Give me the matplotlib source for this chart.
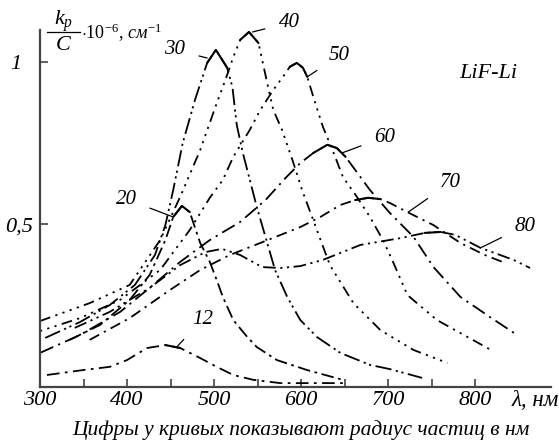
import numpy as np
import matplotlib.pyplot as plt

plt.rcParams['font.family'] = ['Liberation Serif', 'DejaVu Serif']
plt.rcParams['mathtext.fontset'] = 'custom'
plt.rcParams['mathtext.rm'] = 'Liberation Serif'
plt.rcParams['mathtext.it'] = 'Liberation Serif:italic'

# wavelength (nm) / k_p/C (x1e6 cm^-1), one pair per particle radius
x12 = [308, 349, 380, 400, 423, 444, 461, 484, 503, 522, 545, 576, 650]
y12 = [0.037, 0.052, 0.062, 0.083, 0.12, 0.129, 0.12, 0.089, 0.062, 0.037, 0.022, 0.012, 0.012]

x20 = [334, 369, 403, 426, 444, 453, 463, 472, 484, 495, 503, 510, 522, 538, 549, 572, 607, 648]
y20 = [0.145, 0.191, 0.268, 0.345, 0.452, 0.523, 0.557, 0.538, 0.443, 0.385, 0.329, 0.277,
       0.206, 0.154, 0.123, 0.083, 0.052, 0.022]

x30 = [306, 346, 380, 409, 432, 444, 453, 464, 478, 492, 502, 515, 521, 526, 533, 541, 549,
       561, 570, 584, 599, 618, 645, 679, 702, 739]
y30 = [0.151, 0.2, 0.252, 0.314, 0.406, 0.498, 0.606, 0.751, 0.883, 0.997, 1.037, 0.982,
       0.923, 0.806, 0.72, 0.637, 0.554, 0.443, 0.36, 0.277, 0.206, 0.154, 0.105, 0.068,
       0.055, 0.028]

x40 = [300, 357, 403, 438, 461, 484, 501, 513, 522, 530, 540, 551, 561, 568, 578, 590, 601,
       616, 633, 660, 691, 729, 768]
y40 = [0.203, 0.258, 0.314, 0.452, 0.585, 0.729, 0.858, 0.945, 1.015, 1.068, 1.092, 1.058,
       0.935, 0.852, 0.791, 0.698, 0.606, 0.498, 0.375, 0.258, 0.175, 0.114, 0.074]

x50 = [300, 346, 392, 438, 472, 495, 510, 522, 541, 553, 568, 579, 587, 595, 602, 607, 614,
       625, 636, 648, 664, 679, 694, 706, 722, 756, 791, 818]
y50 = [0.172, 0.212, 0.268, 0.36, 0.483, 0.582, 0.637, 0.708, 0.791, 0.852, 0.914, 0.954,
       0.985, 0.997, 0.982, 0.954, 0.892, 0.8, 0.729, 0.646, 0.585, 0.523, 0.452, 0.382,
       0.283, 0.206, 0.154, 0.114]

x60 = [300, 346, 392, 426, 461, 495, 530, 559, 582, 599, 614, 630, 641, 651, 662, 679, 702,
       729, 752, 783, 817, 848]
y60 = [0.105, 0.16, 0.231, 0.305, 0.385, 0.452, 0.508, 0.575, 0.643, 0.689, 0.72, 0.745,
       0.735, 0.708, 0.668, 0.606, 0.535, 0.462, 0.369, 0.277, 0.215, 0.16]

x70 = [357, 403, 449, 484, 518, 553, 599, 622, 645, 662, 677, 691, 702, 722, 752, 783, 811, 834]
y70 = [0.145, 0.212, 0.298, 0.36, 0.406, 0.443, 0.492, 0.523, 0.56, 0.575, 0.582, 0.578,
       0.566, 0.538, 0.498, 0.443, 0.406, 0.382]

x80 = [340, 380, 426, 461, 490, 509, 530, 555, 576, 599, 625, 668, 714, 742, 760, 777, 806,
       844, 863]
y80 = [0.182, 0.231, 0.305, 0.375, 0.415, 0.425, 0.406, 0.369, 0.366, 0.372, 0.391, 0.437,
       0.458, 0.474, 0.477, 0.468, 0.428, 0.391, 0.366]

radii = ['12', '20', '30', '40', '50', '60', '70', '80']
xs = [x12, x20, x30, x40, x50, x60, x70, x80]
ys = [y12, y20, y30, y40, y50, y60, y70, y80]

# line styles and the solid stretch near each maximum
dashes = [(0, (7, 3, 1.5, 3)),
          (0, (7, 2.5, 1.5, 2.5)),
          (0, (9, 2.5, 1.2, 2, 1.2, 2.5)),
          (0, (6, 3, 1.2, 3, 1.2, 3, 1.2, 3, 1.2, 3)),
          (0, (1.2, 3, 1.2, 3, 1.2, 3, 6, 3)),
          (0, (8, 3, 1.2, 3)),
          (0, (6, 3, 1.2, 3)),
          (0, (7, 2.5, 1.2, 2.5, 1.2, 2.5))]
solid = [(425, 462), (453, 480), (490, 518), (528, 553), (584, 610), (612, 652), (655, 697),
         (738, 772)]

# label text position (nm, value) and the point the leader line goes to
lab_pos = [(487, 0.209), (399, 0.578), (455, 1.037), (586, 1.12), (644, 1.02), (696, 0.769),
           (771, 0.628), (857, 0.495)]
lab_tip = [(457, 0.123), (453, 0.523), (492, 1.012), (544, 1.092), (607, 0.954), (647, 0.72),
           (723, 0.538), (806, 0.428)]

fig = plt.figure(figsize=(5.59, 4.42), dpi=100)
ax = fig.add_axes([0.0716, 0.1244, 0.9141, 0.8076])

for x, y, ls, (s0, s1) in zip(xs, ys, dashes, solid):
    x = np.array(x)
    y = np.array(y)
    ax.plot(x, y, color='black', lw=1.3, linestyle=ls, dash_capstyle='butt')
    m = (x >= s0) & (x <= s1)
    ax.plot(x[m], y[m], color='black', lw=1.5, solid_capstyle='round')

for r, (tx, ty), (px, py) in zip(radii, lab_pos, lab_tip):
    ax.annotate(r, xy=(px, py), xytext=(tx, ty), fontsize=15, style='italic',
                ha='center', va='center',
                arrowprops=dict(arrowstyle='-', color='black', lw=0.9, shrinkA=8, shrinkB=0))

ax.text(815, 0.965, 'LiF-Li', fontsize=16, style='italic', ha='center', va='center')

ax.set_xlim(300, 887)
ax.set_ylim(0, 1.098)
ax.spines['top'].set_visible(False)
ax.spines['right'].set_visible(False)
for s in ['left', 'bottom']:
    ax.spines[s].set_color('#444444')
    ax.spines[s].set_linewidth(1.6)

ax.set_xticks([300, 350, 400, 450, 500, 550, 600, 650, 700, 750, 800])
ax.set_xticklabels(['300', '', '400', '', '500', '', '600', '', '700', '', '800'])
ax.set_yticks([0.5, 1.0])
ax.set_yticklabels(['0,5', '1  '])
ax.tick_params(direction='in', length=6, width=1.2, color='#444444', labelsize=16)
ax.tick_params(axis='x', pad=3)
ax.tick_params(axis='y', pad=5)
for t in ax.get_xticklabels() + ax.get_yticklabels():
    t.set_style('italic')

fig.text(0.957, 0.094, 'λ, нм', fontsize=16.5, style='italic', ha='center', va='center')
fig.text(0.113, 0.952, '$k_p$', fontsize=16, ha='center', va='center')
fig.text(0.113, 0.898, '$C$', fontsize=16, ha='center', va='center')
fig.add_artist(plt.Line2D([0.084, 0.143], [0.927, 0.927], color='black', lw=0.9))
fig.text(0.145, 0.925, r'$\cdot\mathit{10}^{\mathit{-6}}\mathit{,\,см}^{\mathit{-1}}$',
         fontsize=13, ha='left', va='center')
fig.text(0.538, 0.027, 'Цифры у кривых показывают радиус частиц в нм', fontsize=15.5,
         style='italic', ha='center', va='center')

fig.savefig('out.png', dpi=100)
